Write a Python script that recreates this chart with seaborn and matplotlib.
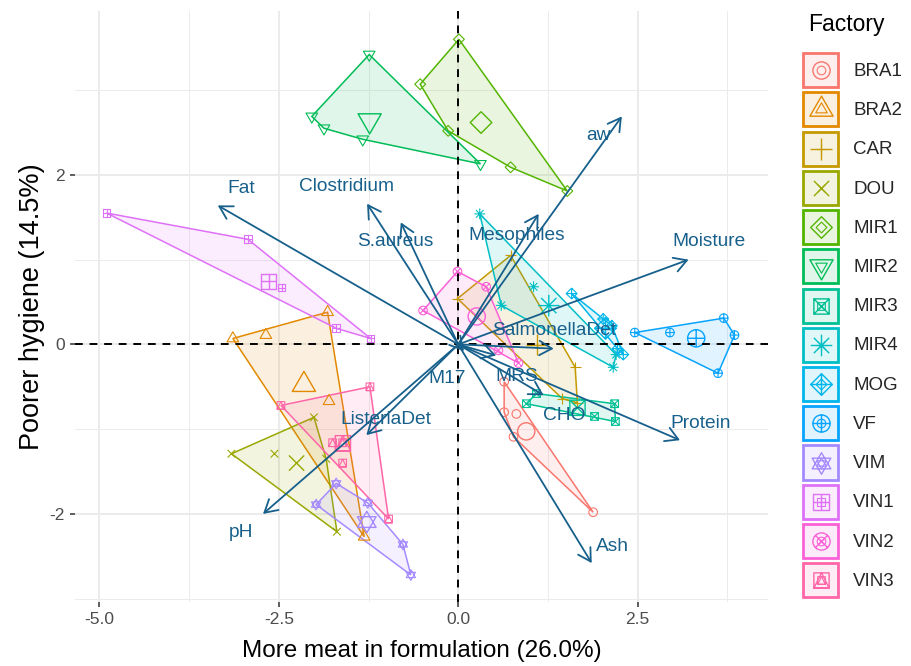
import numpy as np
import pandas as pd
import matplotlib
matplotlib.use("Agg")
import matplotlib.pyplot as plt
import seaborn as sns
from matplotlib.path import Path
from matplotlib.markers import MarkerStyle
from matplotlib.patches import Polygon, Rectangle
from matplotlib.lines import Line2D
from matplotlib.colors import to_rgba

# ---------------------------------------------------------------- data
factories = ["BRA1", "BRA2", "CAR", "DOU", "MIR1", "MIR2", "MIR3",
             "MIR4", "MOG", "VF", "VIM", "VIN1", "VIN2", "VIN3"]

# individual scores on the first two principal components
bra1_x = [0.64, 0.64, 0.81, 0.77, 1.88]
bra1_y = [-0.44, -0.80, -0.82, -1.09, -1.98]
bra2_x = [-3.14, -2.68, -1.82, -1.80, -1.31]
bra2_y = [0.07, 0.11, 0.38, -0.67, -2.27]
car_x = [0.73, -0.01, 1.63, 1.45, 1.66]
car_y = [1.05, 0.54, -0.27, -0.64, -0.69]
dou_x = [-3.16, -2.56, -2.01, -1.84, -1.69]
dou_y = [-1.29, -1.29, -0.86, -1.35, -2.21]
mir1_x = [0.01, -0.53, -0.14, 0.73, 1.52]
mir1_y = [3.60, 3.07, 2.52, 2.09, 1.81]
mir2_x = [-1.24, -2.04, -1.87, -1.33, 0.31]
mir2_y = [3.42, 2.69, 2.55, 2.42, 2.13]
mir3_x = [0.95, 1.09, 2.18, 2.19, 1.90]
mir3_y = [-0.70, -0.58, -0.70, -0.91, -0.85]
mir4_x = [0.30, 1.05, 0.60, 2.16, 2.20]
mir4_y = [1.54, 0.68, 0.46, -0.27, -0.12]
mog_x = [1.58, 2.02, 2.14, 2.22, 2.30]
mog_y = [0.60, 0.30, 0.22, -0.05, -0.12]
vf_x = [3.70, 3.85, 3.62, 2.95, 2.46]
vf_y = [0.31, 0.11, -0.34, 0.14, 0.14]
vim_x = [-1.70, -1.98, -1.26, -0.77, -0.66]
vim_y = [-1.64, -1.89, -1.87, -2.36, -2.72]
vin1_x = [-4.90, -2.93, -2.46, -1.70, -1.22]
vin1_y = [1.55, 1.24, 0.67, 0.19, 0.07]
vin2_x = [-0.01, 0.39, -0.49, 0.56, 0.84]
vin2_y = [0.86, 0.68, 0.40, -0.07, -0.22]
vin3_x = [-2.47, -1.23, -1.75, -1.61, -1.61, -0.97]
vin3_y = [-0.72, -0.50, -1.16, -1.16, -1.40, -2.06]

scores_x = [bra1_x, bra2_x, car_x, dou_x, mir1_x, mir2_x, mir3_x,
            mir4_x, mog_x, vf_x, vim_x, vin1_x, vin2_x, vin3_x]
scores_y = [bra1_y, bra2_y, car_y, dou_y, mir1_y, mir2_y, mir3_y,
            mir4_y, mog_y, vf_y, vim_y, vin1_y, vin2_y, vin3_y]

# variable loadings (arrow tips) and label anchors
variables = ["aw", "Fat", "Clostridium", "S.aureus", "Mesophiles", "Moisture",
             "SalmonellaDet", "MRS", "M17", "CHO", "Protein", "Ash", "pH",
             "ListeriaDet"]
load_x = [2.28, -3.35, -1.27, -0.80, 1.12, 3.21, 1.33, 0.53, 0.08, 1.19,
          3.09, 1.86, -2.72, -1.28]
load_y = [2.69, 1.64, 1.66, 1.44, 1.54, 1.00, -0.05, -0.13, -0.08, -0.60,
          -1.13, -2.58, -2.00, -1.07]
label_x = [1.96, -3.03, -1.56, -0.87, 0.81, 3.49, 1.34, 0.82, -0.15, 1.48,
           3.38, 2.15, -3.03, -1.01]
label_y = [2.46, 1.84, 1.86, 1.22, 1.29, 1.21, 0.16, -0.38, -0.40, -0.84,
           -0.93, -2.39, -2.22, -0.89]

x_ticks = [-5.0, -2.5, 0.0, 2.5]
x_tick_labels = ["-5.0", "-2.5", "0.0", "2.5"]
y_ticks = [-2, 0, 2]
y_tick_labels = ["-2", "0", "2"]

rows = []
for f, xs, ys in zip(factories, scores_x, scores_y):
    for a, b in zip(xs, ys):
        rows.append((f, a, b))
df = pd.DataFrame(rows, columns=["Factory", "PC1", "PC2"])


# ---------------------------------------------------------------- colours
def hcl_hex(h, c=100.0, l=65.0):
    """Polar LUV (HCL) to sRGB hex, D65 white."""
    xn, yn, zn = 95.047, 100.0, 108.883
    hr = np.deg2rad(h)
    u, v = c * np.cos(hr), c * np.sin(hr)
    y = yn * ((l + 16) / 116) ** 3 if l > 8 else yn * l / 903.3
    den = xn + 15 * yn + 3 * zn
    un, vn = 4 * xn / den, 9 * yn / den
    uu, vv = u / (13 * l) + un, v / (13 * l) + vn
    x = 9.0 * y * uu / (4 * vv)
    z = -x / 3 - 5 * y + 3 * y / vv
    x, y, z = x / 100, y / 100, z / 100
    r = 3.240479 * x - 1.537150 * y - 0.498535 * z
    g = -0.969256 * x + 1.875992 * y + 0.041556 * z
    b = 0.055648 * x - 0.204043 * y + 1.057311 * z

    def gam(t):
        t = 12.92 * t if t <= 0.0031308 else 1.055 * t ** (1 / 2.4) - 0.055
        return min(max(t, 0.0), 1.0)
    return "#%02X%02X%02X" % tuple(int(round(gam(t) * 255)) for t in (r, g, b))


n = len(factories)
hues = np.linspace(15, 375, n + 1)[:-1]
palette = [hcl_hex(h) for h in hues]
arrow_col = "#17608C"


# ---------------------------------------------------------------- markers
def ring(r=1.0):
    return Path.circle((0, 0), r)


def poly(pts):
    pts = list(pts)
    return Path(pts + [pts[0]], [Path.MOVETO] + [Path.LINETO] * (len(pts) - 1) + [Path.CLOSEPOLY])


def seg(a, b):
    return Path([a, b], [Path.MOVETO, Path.LINETO])


SQ, DI = 0.886, 1.2533
T0, T1, T2 = 1.5551, 1.3468, 0.7776
square = poly([(-SQ, -SQ), (SQ, -SQ), (SQ, SQ), (-SQ, SQ)])
diamond = poly([(0, -DI), (DI, 0), (0, DI), (-DI, 0)])
tri_up = poly([(0, T0), (T1, -T2), (-T1, -T2)])
tri_dn = poly([(0, -T0), (T1, T2), (-T1, T2)])
plus_big = Path.make_compound_path(seg((-DI, 0), (DI, 0)), seg((0, -DI), (0, DI)))
cross_sq = Path.make_compound_path(seg((-SQ, -SQ), (SQ, SQ)), seg((-SQ, SQ), (SQ, -SQ)))
plus_sq = Path.make_compound_path(seg((-SQ, 0), (SQ, 0)), seg((0, -SQ), (0, SQ)))
plus_one = Path.make_compound_path(seg((-1, 0), (1, 0)), seg((0, -1), (0, 1)))
k = 0.7071
cross_one = Path.make_compound_path(seg((-k, -k), (k, k)), seg((-k, k), (k, -k)))
star_up = poly([(0, 1.25), (1.08, -0.62), (-1.08, -0.62)])
star_dn = poly([(0, -1.25), (1.08, 0.62), (-1.08, 0.62)])
sq_tri = poly([(0, SQ), (SQ, -SQ), (-SQ, -SQ)])

shape_paths = [
    ring(),
    tri_up,
    plus_big,
    cross_sq,
    diamond,
    tri_dn,
    Path.make_compound_path(square, cross_sq),
    Path.make_compound_path(cross_sq, plus_big),
    Path.make_compound_path(diamond, plus_big),
    Path.make_compound_path(ring(), plus_one),
    Path.make_compound_path(star_up, star_dn),
    Path.make_compound_path(square, plus_sq),
    Path.make_compound_path(ring(), cross_one),
    Path.make_compound_path(square, sq_tri),
]
# matplotlib rescales each path to unit extent; keep the true extent
shape_extent = [np.max(np.abs(p.vertices)) for p in shape_paths]
shape_markers = [MarkerStyle(p) for p in shape_paths]

R_SMALL = 3.1   # point radius in pt
R_BIG = 6.2


def msize(i, r):
    return 2 * shape_extent[i] * r


# ---------------------------------------------------------------- hull
def convex_hull(pts):
    pts = sorted(set(map(tuple, pts)))
    if len(pts) <= 2:
        return pts

    def cross(o, a, b):
        return (a[0] - o[0]) * (b[1] - o[1]) - (a[1] - o[1]) * (b[0] - o[0])
    lower, upper = [], []
    for p in pts:
        while len(lower) >= 2 and cross(lower[-2], lower[-1], p) <= 0:
            lower.pop()
        lower.append(p)
    for p in reversed(pts):
        while len(upper) >= 2 and cross(upper[-2], upper[-1], p) <= 0:
            upper.pop()
        upper.append(p)
    return lower[:-1] + upper[:-1]


# ---------------------------------------------------------------- legend key
class FactoryKey:
    """Legend key: tinted box with the point symbol and the mean symbol."""

    def __init__(self, idx):
        self.idx = idx


class FactoryKeyHandler:
    def legend_artist(self, legend, orig_handle, fontsize, handlebox):
        i = orig_handle.idx
        x0, y0 = handlebox.xdescent, handlebox.ydescent
        w, h = handlebox.width, handlebox.height
        tr = handlebox.get_transform()
        rect = Rectangle((-x0 + 1, -y0 + 1), w - 2, h - 2,
                         facecolor=to_rgba(palette[i], 0.12),
                         edgecolor=palette[i], lw=2.0, transform=tr)
        handlebox.add_artist(rect)
        cx, cy = -x0 + w / 2, -y0 + h / 2
        for r, lw in ((R_SMALL, 0.8), (R_BIG, 1.0)):
            handlebox.add_artist(Line2D([cx], [cy], ls="none", marker=shape_markers[i],
                                        markersize=msize(i, r), markerfacecolor="none",
                                        markeredgecolor=palette[i], markeredgewidth=lw,
                                        transform=tr))
        return rect


# ---------------------------------------------------------------- figure
sns.set_theme(style="whitegrid")
plt.rcParams["font.family"] = ["Liberation Sans", "DejaVu Sans"]

W, H = 911, 666
fig = plt.figure(figsize=(W / 100, H / 100), dpi=100)
ax = fig.add_axes([0.0823, 0.096, 0.761, 0.887])
ax.set_facecolor("white")

ax.set_xlim(-5.34, 4.32)
ax.set_ylim(-3.04, 3.93)
ax.set_xticks(x_ticks)
ax.set_xticklabels(x_tick_labels)
ax.set_yticks(y_ticks)
ax.set_yticklabels(y_tick_labels)
ax.set_xticks([-3.75, -1.25, 1.25, 3.75], minor=True)
ax.set_yticks([-3, -1, 1, 3], minor=True)
ax.grid(which="major", color="#EBEBEB", lw=1.4)
ax.grid(which="minor", color="#EBEBEB", lw=0.7)
ax.set_axisbelow(True)
for s in ax.spines.values():
    s.set_visible(False)
ax.tick_params(which="major", length=3.5, width=1.1, color="#333333",
               labelsize=12.5, labelcolor="#4D4D4D", pad=4, bottom=True, left=True)
ax.tick_params(which="minor", length=0)

# convex hulls of each factory
for i, f in enumerate(factories):
    sub = df[df["Factory"] == f]
    hull = convex_hull(sub[["PC1", "PC2"]].values)
    ax.add_patch(Polygon(hull, closed=True, facecolor=to_rgba(palette[i], 0.12),
                         edgecolor=palette[i], lw=1.1, zorder=2))

# individual points and factory means
for i, f in enumerate(factories):
    sub = df[df["Factory"] == f]
    sns.scatterplot(data=sub, x="PC1", y="PC2", ax=ax, marker=shape_markers[i],
                    s=msize(i, R_SMALL) ** 2, color=palette[i], facecolor="none",
                    edgecolor=palette[i], linewidth=0.8, legend=False, zorder=3)
    mean = sub[["PC1", "PC2"]].mean()
    ax.scatter([mean["PC1"]], [mean["PC2"]], marker=shape_markers[i],
               s=msize(i, R_BIG) ** 2, facecolor="none", edgecolor=palette[i],
               linewidth=1.0, zorder=3)

# reference lines
ax.axhline(0, color="black", lw=1.4, ls=(0, (4, 3.5)), zorder=4)
ax.axvline(0, color="black", lw=1.4, ls=(0, (4, 3.5)), zorder=4)

# variable arrows
for v, lx, ly, tx, ty in zip(variables, load_x, load_y, label_x, label_y):
    ax.annotate("", xy=(lx, ly), xytext=(0, 0),
                arrowprops=dict(arrowstyle="->,head_length=0.45,head_width=0.26",
                                color=arrow_col, lw=1.3, shrinkA=0, shrinkB=0,
                                mutation_scale=20),
                zorder=5)
    ax.text(tx, ty, v, color=arrow_col, fontsize=13.8, ha="center", va="center",
            zorder=6)

ax.set_xlabel("More meat in formulation (26.0%)", fontsize=17.5, color="black", labelpad=9)
ax.set_ylabel("Poorer hygiene (14.5%)", fontsize=19.5, color="black", labelpad=3)

# legend
fig.text(808 / W, 1 - 25 / H, "Factory", fontsize=16.5, color="black",
         ha="left", va="center")
keys = [FactoryKey(i) for i in range(n)]
leg = fig.legend(keys, factories, handler_map={FactoryKey: FactoryKeyHandler()},
                 loc="upper left", bbox_to_anchor=(798 / W, 1 - 48 / H),
                 frameon=False, fontsize=13.5,
                 handlelength=2.0, handleheight=2.65, labelspacing=0.125,
                 handletextpad=0.75, borderpad=0.2, borderaxespad=0)

fig.savefig("out.png", dpi=100)
